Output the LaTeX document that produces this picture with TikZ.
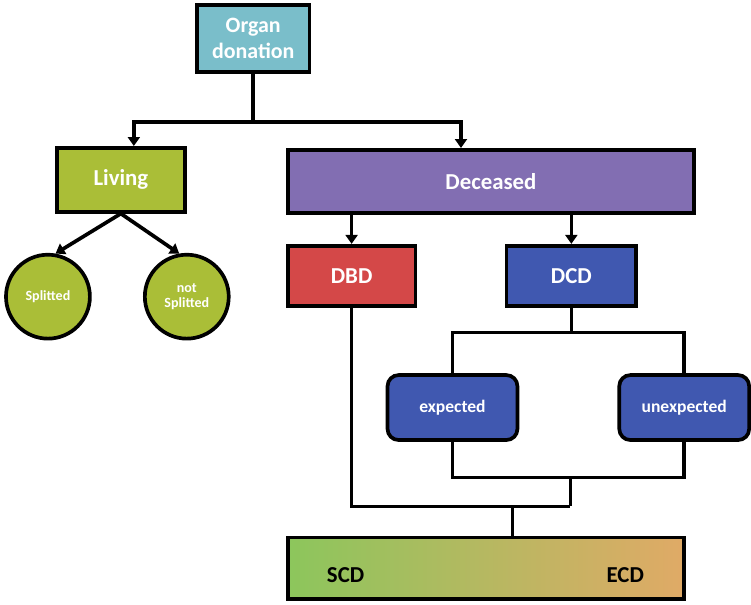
\documentclass[tikz,border=0pt]{standalone}
\usepackage{fontspec}
\setmainfont{Carlito}
\usepackage{xcolor}
\usetikzlibrary{positioning, calc, arrows.meta}
\definecolor{organcol}{RGB}{122,190,202}
\definecolor{livingcol}{RGB}{170,190,55}
\definecolor{deceasedcol}{RGB}{130,110,178}
\definecolor{dbdcol}{RGB}{212,72,72}
\definecolor{dcdcol}{RGB}{64,88,176}
\definecolor{scdcol}{RGB}{140,198,92}
\definecolor{ecdcol}{RGB}{224,170,102}

\begin{document}
\begin{tikzpicture}[
    x=0.2mm, y=-0.2mm,
    >={Triangle[length=1.8mm, width=2.4mm]},
    %% ── Base node style ──
    box/.style={
        rectangle, draw=black, line width=2.1pt,
        align=center, text=white, font=\fontsize{13}{14}\selectfont\bfseries,
        inner sep=2pt
    },
    %% ── Specialized styles ──
    organ/.style={box, fill=organcol, minimum width=22.6mm, minimum height=13.4mm,
        font=\fontsize{12.5}{15}\selectfont\bfseries},
    living/.style={box, fill=livingcol, minimum width=25.6mm, minimum height=12.8mm},
    deceased/.style={box, fill=deceasedcol, minimum width=81.4mm, minimum height=12.6mm},
    dbdbox/.style={box, fill=dbdcol, minimum width=25.6mm, minimum height=12mm},
    dcdbox/.style={box, fill=dcdcol, minimum width=26mm, minimum height=12mm},
    kind/.style={box, fill=dcdcol, rounded corners=2.2mm, minimum width=26mm,
        minimum height=13mm, font=\fontsize{10}{12}\selectfont\bfseries},
    graft/.style={circle, draw=black, line width=2.1pt, fill=livingcol,
        minimum size=16.8mm, inner sep=0pt, align=center, text=white,
        font=\fontsize{8}{9}\selectfont\bfseries},
    criteriabar/.style={box, left color=scdcol, right color=ecdcol, text=black,
        minimum width=79.4mm, minimum height=12.4mm},
    barlabel/.style={font=\fontsize{13}{14}\selectfont\bfseries},
    %% ── Connector styles ──
    flow/.style={->, line width=2.1pt},
    link/.style={line width=2.1pt},
]

% ── Top level ──
\node[organ] (organ) at (253.5, 38.5) {Organ\\donation};

% ── Second level ──
\node[living]   (living)   at (121, 180)   {Living};
\node[deceased] (deceased) at (491.5, 181.5) {Deceased};

% ── Living grafts ──
\node[graft] (split)   at (48, 297)  {Splitted};
\node[graft] (nosplit) at (187, 297) {not\\Splitted};

% ── Deceased branches ──
\node[dbdbox] (dbd) at (352, 276) {DBD};
\node[dcdbox] (dcd) at (572, 276) {DCD};

\node[kind] (expected)   at (453, 408) {expected};
\node[kind] (unexpected) at (685, 408) {unexpected};

% ── Donor criteria bar ──
\node[criteriabar] (criteria) at (486.5, 569) {};
\node[barlabel] (scd) at (346, 576) {SCD};
\node[barlabel] (ecd) at (626, 576) {ECD};

% helper points
\coordinate (fork)     at (253.5, 122);
\coordinate (dcdsplit) at (572, 333);
\coordinate (dcdjoin)  at (571, 478);
\coordinate (join)     at (571, 507);
\coordinate (barin)    at (513, 507);

% Organ donation -> Living / Deceased
\draw[link] (organ.south) -- (fork);
\draw[flow] (fork) -| ($(living.north)+(13,0)$);
\draw[flow] (fork) -| ($(deceased.north)+(-30,0)$);

% Living -> grafts
\draw[flow] (living.south) -- (split.80);
\draw[flow] (living.south) -- (nosplit.100);

% Deceased -> DBD / DCD
\draw[flow] (dbd.north |- deceased.south) -- (dbd.north);
\draw[flow] (dcd.north |- deceased.south) -- (dcd.north);

% DCD split and join
\draw[link] (dcd.south) -- (dcdsplit);
\draw[link] (expected.north) |- (dcdsplit) -| (unexpected.north);
\draw[link] (expected.south) |- (dcdjoin) -| (unexpected.south);
\draw[link] (dcdjoin) -- (join);

% DBD -> join -> criteria
\draw[link] (dbd.south) |- (join);
\draw[link] (barin) -- (barin |- criteria.north);

\useasboundingbox (0,0) rectangle (751,605);
\end{tikzpicture}
\end{document}
